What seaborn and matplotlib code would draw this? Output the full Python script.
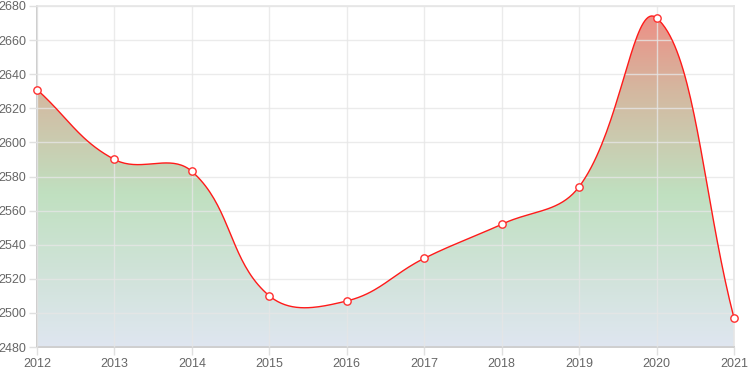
import numpy as np
import pandas as pd
import matplotlib
matplotlib.use("Agg")
import matplotlib.pyplot as plt
import seaborn as sns
from matplotlib.colors import LinearSegmentedColormap

years = [2012, 2013, 2014, 2015, 2016, 2017, 2018, 2019, 2020, 2021]
values = [2631, 2590, 2583, 2510, 2507, 2532, 2552, 2574, 2673, 2497]

y_min, y_max, y_step = 2480, 2680, 20


def spline_curve(xs, ys, sx, sy, tension=0.4, n=40):
    # chart.js style cubic bezier, distances taken in pixel space
    px = np.asarray(xs, float) * sx
    py = np.asarray(ys, float) * sy
    m = len(px)
    c_prev = np.zeros((m, 2))
    c_next = np.zeros((m, 2))
    for i in range(m):
        p0 = (px[max(i - 1, 0)], py[max(i - 1, 0)])
        p1 = (px[i], py[i])
        p2 = (px[min(i + 1, m - 1)], py[min(i + 1, m - 1)])
        d01 = np.hypot(p1[0] - p0[0], p1[1] - p0[1])
        d12 = np.hypot(p2[0] - p1[0], p2[1] - p1[1])
        tot = d01 + d12
        s01 = d01 / tot if tot else 0
        s12 = d12 / tot if tot else 0
        fa, fb = tension * s01, tension * s12
        c_prev[i] = (p1[0] - fa * (p2[0] - p0[0]), p1[1] - fa * (p2[1] - p0[1]))
        c_next[i] = (p1[0] + fb * (p2[0] - p0[0]), p1[1] + fb * (p2[1] - p0[1]))
    out_x, out_y = [], []
    t = np.linspace(0, 1, n)
    for i in range(m - 1):
        P0 = np.array([px[i], py[i]])
        P1 = c_next[i]
        P2 = c_prev[i + 1]
        P3 = np.array([px[i + 1], py[i + 1]])
        b = ((1 - t) ** 3)[:, None] * P0 + (3 * (1 - t) ** 2 * t)[:, None] * P1 \
            + (3 * (1 - t) * t ** 2)[:, None] * P2 + (t ** 3)[:, None] * P3
        if i > 0:
            b = b[1:]
        out_x.extend(b[:, 0])
        out_y.extend(b[:, 1])
    return np.array(out_x) / sx, np.array(out_y) / sy


sns.set_theme(style="white")
plt.rcParams["font.family"] = ["Liberation Sans", "DejaVu Sans"]

fig = plt.figure(figsize=(7.5, 3.75), dpi=100)
ax = fig.add_axes([37 / 750, 1 - 347 / 375, (734 - 37) / 750, (347 - 6) / 375])

# pixels per unit (approx) for spline distances
sx = 697 / (years[-1] - years[0])
sy = 341 / (y_max - y_min)
cx, cy = spline_curve(years, values, sx, sy)
cy = np.clip(cy, y_min, y_max)

# gradient fill: red at top, green in the middle, pale blue at the bottom
cmap = LinearSegmentedColormap.from_list(
    "grad",
    [(0.0, "#dfe6f0"), (0.45, "#c0e0c0"), (0.75, "#d4b8a0"), (1.0, "#f08a82")],
)
grad = np.linspace(0, 1, 256).reshape(-1, 1)
img = ax.imshow(grad, cmap=cmap, aspect="auto", origin="lower",
                extent=[years[0], years[-1], y_min, y_max], zorder=1)
poly = ax.fill_between(cx, cy, y_min, color="none", lw=0)
clip_path = poly.get_paths()[0]
img.set_clip_path(clip_path, transform=ax.transData)

df = pd.DataFrame({"year": years, "value": values})
ax.plot(cx, cy, color="#ff1a1a", lw=1, zorder=3)
sns.scatterplot(data=df, x="year", y="value", ax=ax, s=28, color="white",
                edgecolor="#ff3030", linewidth=1, zorder=4, clip_on=False)

ax.set_xlim(years[0], years[-1])
ax.set_ylim(y_min, y_max)
ax.set_xticks(years)
ax.set_yticks(np.arange(y_min, y_max + 1, y_step))
ax.set_xlabel("")
ax.set_ylabel("")
ax.grid(True, color="#e6e6e6", lw=1, zorder=0)
ax.set_axisbelow(False)
for gl in ax.get_xgridlines() + ax.get_ygridlines():
    gl.set_zorder(2)
    gl.set_alpha(0.8)
for side in ["top", "right"]:
    ax.spines[side].set_color("#e6e6e6")
ax.spines["left"].set_color("#c8c8c8")
ax.spines["bottom"].set_color("#c8c8c8")
ax.tick_params(axis="both", colors="#e0e0e0", labelcolor="#666666",
               labelsize=9, length=6, width=1, direction="out", pad=2,
               left=True, bottom=True)

fig.savefig("out.png", dpi=100)
